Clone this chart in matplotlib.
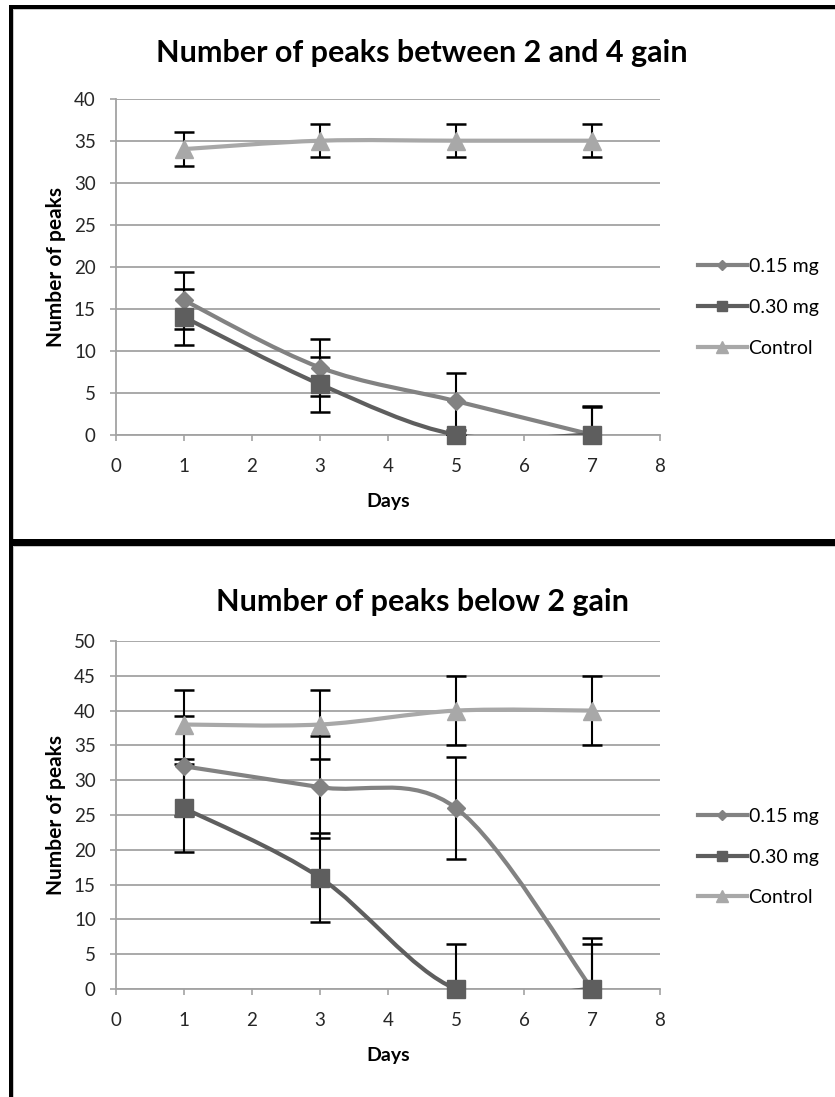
import matplotlib
matplotlib.use("Agg")
import matplotlib.pyplot as plt
from matplotlib.path import Path
from matplotlib.patches import PathPatch, Rectangle
from matplotlib.lines import Line2D

plt.rcParams['font.family'] = ['Lato', 'DejaVu Sans']

days = [1, 3, 5, 7]
x_ticks = [0, 1, 2, 3, 4, 5, 6, 7, 8]
labels = ["0.15 mg", "0.30 mg", "Control"]

# top chart: between 2 and 4 gain
top_015 = [16, 8, 4, 0]
top_015_err = [3.4, 3.4, 3.4, 3.4]
top_030 = [14, 6, 0, 0]
top_030_err = [3.3, 3.3, 0, 3.3]
top_ctrl = [34, 35, 35, 35]
top_ctrl_err = [2, 2, 2, 2]

# bottom chart: below 2 gain
bot_015 = [32, 29, 26, 0]
bot_015_err = [7.2, 7.3, 7.3, 7.3]
bot_030 = [26, 16, 0, 0]
bot_030_err = [6.3, 6.4, 6.4, 6.4]
bot_ctrl = [38, 38, 40, 40]
bot_ctrl_err = [5, 5, 5, 5]

colors = ["#828282", "#5e5e5e", "#a8a8a8"]
markers = ["D", "s", "^"]
msizes = [9, 12.5, 13]
grid_col = "#a3a3a3"
tick_col = "#262626"

W, H = 835, 1097
fig = plt.figure(figsize=(W / 100, H / 100), dpi=100)


def fx(px):
    return px / W


def fy(py):
    return 1 - py / H


def smooth_path(xs, ys):
    # excel style smoothed line: cubic bezier through the points
    pts = list(zip(xs, ys))
    n = len(pts)
    verts = [pts[0]]
    codes = [Path.MOVETO]
    for i in range(n - 1):
        p0 = pts[i - 1] if i > 0 else pts[i]
        p1 = pts[i]
        p2 = pts[i + 1]
        p3 = pts[i + 2] if i + 2 < n else pts[i + 1]
        c1 = (p1[0] + (p2[0] - p0[0]) / 6, p1[1] + (p2[1] - p0[1]) / 6)
        c2 = (p2[0] - (p3[0] - p1[0]) / 6, p2[1] - (p3[1] - p1[1]) / 6)
        verts += [c1, c2, p2]
        codes += [Path.CURVE4] * 3
    return Path(verts, codes)


def draw_chart(ax, series, errs, ymax, title, title_base, days_y, legend_mid):
    ax.set_xlim(0, 8)
    ax.set_ylim(0, ymax)
    ax.set_xticks(x_ticks)
    ax.set_yticks(range(0, ymax + 1, 5))
    ax.yaxis.grid(True, color=grid_col, lw=1.3)
    ax.set_axisbelow(True)
    for s in ["top", "right"]:
        ax.spines[s].set_visible(False)
    for s in ["left", "bottom"]:
        ax.spines[s].set_color(grid_col)
        ax.spines[s].set_linewidth(1.3)
    ax.tick_params(axis="both", direction="out", length=4.5, width=1.2,
                   color=grid_col, labelsize=13.5, labelcolor=tick_col)
    ax.tick_params(axis="x", pad=12)
    ax.tick_params(axis="y", pad=10)

    for vals, err in zip(series, errs):
        ax.errorbar(days, vals, yerr=err, fmt="none", ecolor="black",
                    elinewidth=1.5, capsize=7.5, capthick=1.8, zorder=3)
    handles = []
    for vals, c, m, ms, lab in zip(series, colors, markers, msizes, labels):
        ax.add_patch(PathPatch(smooth_path(days, vals), fill=False,
                               edgecolor=c, lw=3, zorder=4,
                               capstyle="round", joinstyle="round"))
        ax.plot(days, vals, ls="none", marker=m, markersize=ms, color=c,
                clip_on=False, zorder=5)
        handles.append(Line2D([], [], color=c, lw=3, marker=m,
                              markersize=ms * 0.62, label=lab))

    fig.text(fx(422), fy(title_base), title, ha="center", va="baseline",
             fontsize=22, fontweight="bold", color="black")
    fig.text(fx(388), fy(days_y), "Days", ha="center", va="center",
             fontsize=14, fontweight="bold")
    bb = ax.get_position()
    fig.text(fx(56), bb.y0 + bb.height / 2, "Number of peaks", rotation=90,
             ha="center", va="center", fontsize=15, fontweight="bold")
    ax.legend(handles=handles, loc="center left",
              bbox_to_anchor=(fx(698), fy(legend_mid)),
              bbox_transform=fig.transFigure, frameon=False, fontsize=14,
              handlelength=2.5, handletextpad=0.1, labelspacing=1.22,
              borderpad=0, borderaxespad=0, numpoints=1)


ax1 = fig.add_axes([fx(116), fy(434.7), 544 / W, 336 / H])
draw_chart(ax1, [top_015, top_030, top_ctrl],
           [top_015_err, top_030_err, top_ctrl_err], 40,
           "Number of peaks between 2 and 4 gain", 62, 501, 307.5)

ax2 = fig.add_axes([fx(116), fy(989), 544 / W, 348 / H])
draw_chart(ax2, [bot_015, bot_030, bot_ctrl],
           [bot_015_err, bot_030_err, bot_ctrl_err], 50,
           "Number of peaks below 2 gain", 611, 1055, 857)

# chart borders
def box(x0, y0, x1, y1, col):
    fig.add_artist(Rectangle((fx(x0), fy(y1)), fx(x1) - fx(x0),
                             fy(y0) - fy(y1), transform=fig.transFigure,
                             facecolor=col, edgecolor="none", zorder=10))

box(13, 9, 835, 10, "#c8c8c8")
box(13, 9, 14, 1097, "#c8c8c8")
box(13, 546, 835, 547, "#c8c8c8")
box(9, 5, 835, 9, "black")
box(9, 5, 13, 1097, "black")
box(9, 539, 835, 546, "black")

fig.savefig("out.png", dpi=100)
